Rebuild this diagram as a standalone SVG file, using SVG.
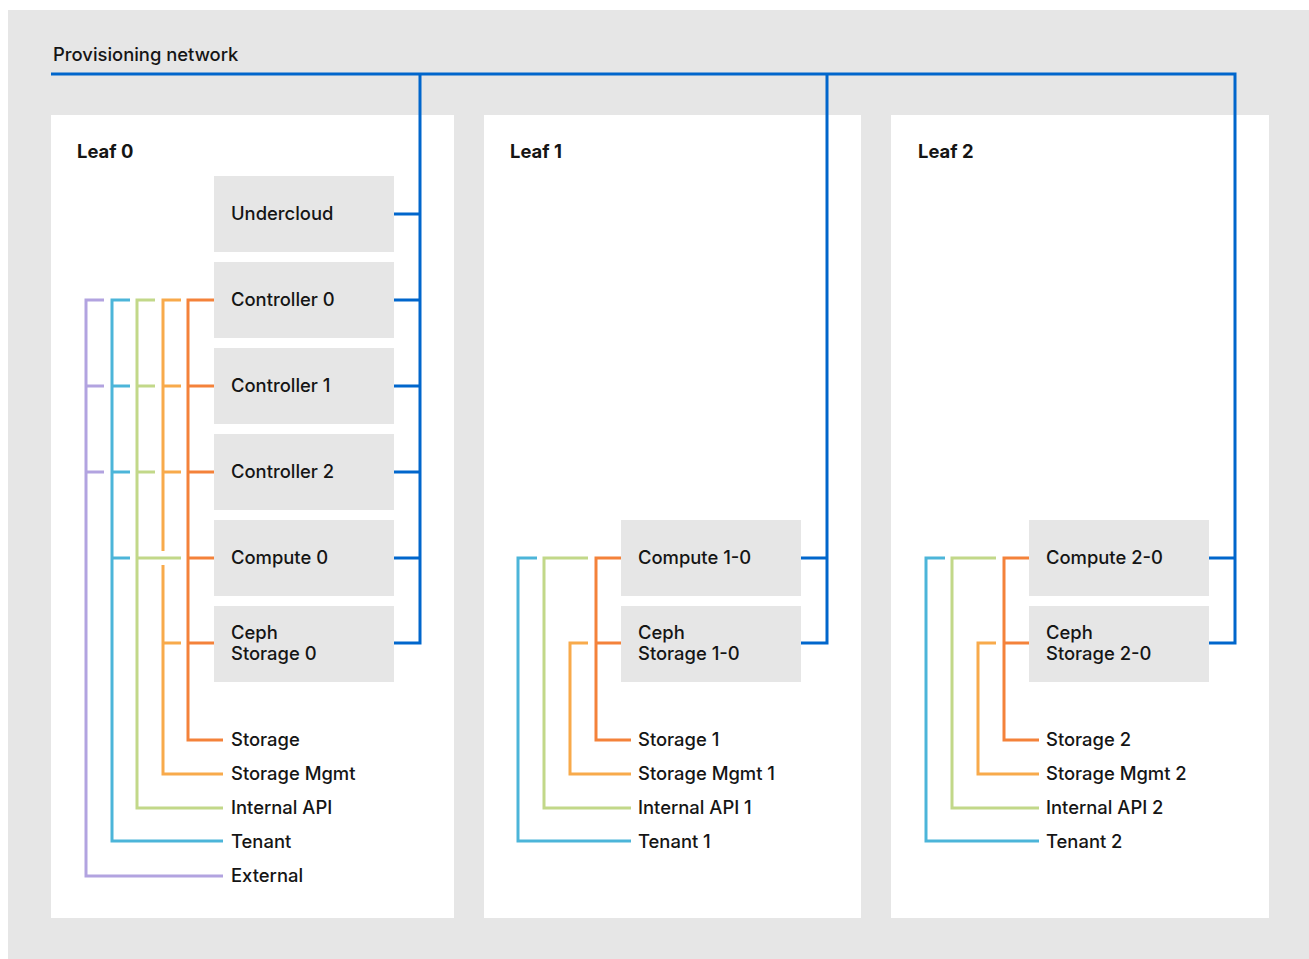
<svg xmlns="http://www.w3.org/2000/svg" width="1309" height="959" viewBox="0 0 1309 959">
<style>
text{font-family:Inter,"Noto Sans","Liberation Sans",sans-serif;font-size:18.4px;fill:#151515;font-weight:500}
.leaf{font-weight:700}
.panel{fill:#fff}
.node{fill:#e6e6e6}
.ln{fill:none;stroke-width:3;stroke-linecap:butt;stroke-linejoin:miter}
.prov{stroke:#0066cc}
.ext{stroke:#b2a3e0}
.ten{stroke:#4cb5d9}
.api{stroke:#c2d889}
.smg{stroke:#f8aa4b}
.sto{stroke:#f4823a}
</style>
<rect x="0" y="0" width="1309" height="959" fill="#fff"/>
<rect x="8" y="10" width="1301" height="949" fill="#e6e6e6"/>
<text x="53" y="61">Provisioning network</text>
<g id="leaf0">
<rect class="panel" x="51" y="115" width="403" height="803"/>
<text class="leaf" x="77" y="158">Leaf 0</text>
</g>
<g id="leaf1">
<rect class="panel" x="484" y="115" width="377" height="803"/>
<text class="leaf" x="510" y="158">Leaf 1</text>
</g>
<g id="leaf2">
<rect class="panel" x="891" y="115" width="378" height="803"/>
<text class="leaf" x="918" y="158">Leaf 2</text>
</g>
<g id="undercloud"><rect class="node" x="214" y="176" width="180" height="76"/><text x="231" y="220">Undercloud</text></g>
<g id="controller0"><rect class="node" x="214" y="262" width="180" height="76"/><text x="231" y="306">Controller 0</text></g>
<g id="controller1"><rect class="node" x="214" y="348" width="180" height="76"/><text x="231" y="392">Controller 1</text></g>
<g id="controller2"><rect class="node" x="214" y="434" width="180" height="76"/><text x="231" y="478">Controller 2</text></g>
<g id="compute0"><rect class="node" x="214" y="520" width="180" height="76"/><text x="231" y="564">Compute 0</text></g>
<g id="ceph0"><rect class="node" x="214" y="606" width="180" height="76"/><text x="231" y="639">Ceph</text><text x="231" y="660">Storage 0</text></g>
<g id="compute10"><rect class="node" x="621" y="520" width="180" height="76"/><text x="638" y="564">Compute 1-0</text></g>
<g id="ceph10"><rect class="node" x="621" y="606" width="180" height="76"/><text x="638" y="639">Ceph</text><text x="638" y="660">Storage 1-0</text></g>
<g id="compute20"><rect class="node" x="1029" y="520" width="180" height="76"/><text x="1046" y="564">Compute 2-0</text></g>
<g id="ceph20"><rect class="node" x="1029" y="606" width="180" height="76"/><text x="1046" y="639">Ceph</text><text x="1046" y="660">Storage 2-0</text></g>
<g id="net-labels">
<text x="231" y="746">Storage</text>
<text x="231" y="780">Storage Mgmt</text>
<text x="231" y="814">Internal API</text>
<text x="231" y="848">Tenant</text>
<text x="231" y="882">External</text>
<text x="638" y="746">Storage 1</text>
<text x="638" y="780">Storage Mgmt 1</text>
<text x="638" y="814">Internal API 1</text>
<text x="638" y="848">Tenant 1</text>
<text x="1046" y="746">Storage 2</text>
<text x="1046" y="780">Storage Mgmt 2</text>
<text x="1046" y="814">Internal API 2</text>
<text x="1046" y="848">Tenant 2</text>
</g>
<g id="connectors">
<path class="ln prov" d="M51 74H1235V643H1209M1209 558H1235M827 74V643H801M801 558H827M420 74V643H394M394 214H420M394 300H420M394 386H420M394 472H420M394 558H420"/>
<path class="ln ext" d="M104 300H86V876H223M86 386H104M86 472H104"/>
<path class="ln ten" d="M130 300H112V841H223M112 386H130M112 472H130M112 558H130"/>
<path class="ln api" d="M155 300H137V808H223M137 386H155M137 472H155M137 558H181"/>
<path class="ln smg" d="M181 300H163V551M163 565V774H223M163 386H181M163 472H181M163 643H181"/>
<path class="ln sto" d="M214 300H188V740H223M188 386H214M188 472H214M188 558H214M188 643H214"/>
<path class="ln ten" d="M537 558H518V841H631"/>
<path class="ln api" d="M588 558H544V808H631"/>
<path class="ln smg" d="M588 643H570V774H631"/>
<path class="ln sto" d="M621 558H596V740H631M596 643H621"/>
<path class="ln ten" d="M945 558H926V841H1039"/>
<path class="ln api" d="M996 558H952V808H1039"/>
<path class="ln smg" d="M996 643H978V774H1039"/>
<path class="ln sto" d="M1029 558H1004V740H1039M1004 643H1029"/>
</g>
</svg>
